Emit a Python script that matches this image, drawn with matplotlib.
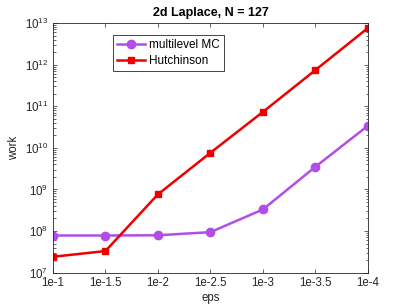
import matplotlib
matplotlib.use('Agg')
import matplotlib.pyplot as plt
import numpy as np

plt.rcParams['font.family'] = ['Liberation Sans', 'DejaVu Sans']

# data
eps_pos = [1, 1.5, 2, 2.5, 3, 3.5, 4]
eps_labels = ['1e-1', '1e-1.5', '1e-2', '1e-2.5', '1e-3', '1e-3.5', '1e-4']
work_mlmc = [7.8e7, 7.8e7, 7.9e7, 9.4e7, 3.3e8, 3.5e9, 3.4e10]
work_hutch = [2.4e7, 3.3e7, 7.6e8, 7.6e9, 7.3e10, 7.4e11, 7.6e12]

purple = '#b24ee6'
red = '#ee0000'
axcol = '#262626'

fig = plt.figure(figsize=(4.07, 3.07), dpi=100)
ax = fig.add_axes([0.130, 0.112, 0.774, 0.813])

ax.plot(eps_pos, work_mlmc, color=purple, lw=1.8, marker='o', ms=6, label='multilevel MC')
ax.plot(eps_pos, work_hutch, color=red, lw=1.8, marker='s', ms=5, label='Hutchinson')

ax.set_yscale('log')
ax.set_xlim(1, 4)
ax.set_ylim(1e7, 1e13)
ax.set_xticks(eps_pos)
ax.set_xticklabels(eps_labels)
ax.set_yticks([10.0**k for k in range(7, 14)])

ax.tick_params(which='both', direction='in', top=True, right=True, colors=axcol,
               labelsize=8.3, width=0.5)
ax.tick_params(which='major', length=3)
ax.tick_params(which='minor', length=1.8)
for s in ax.spines.values():
    s.set_color(axcol)
    s.set_linewidth(0.6)

ax.set_xlabel('eps', fontsize=8.3, color=axcol, labelpad=2)
ax.set_ylabel('work', fontsize=8.3, color=axcol, labelpad=3)
ax.set_title('2d Laplace, N = 127', fontsize=9, fontweight='bold', pad=5)

leg = ax.legend(loc='upper left', bbox_to_anchor=(0.19, 0.952), fontsize=8.5,
                fancybox=False, edgecolor=axcol, framealpha=1, borderpad=0.35,
                handlelength=2.4, labelspacing=0.3, handletextpad=0.3, borderaxespad=0)
leg.get_frame().set_linewidth(0.6)

fig.savefig('out.png', dpi=100)
